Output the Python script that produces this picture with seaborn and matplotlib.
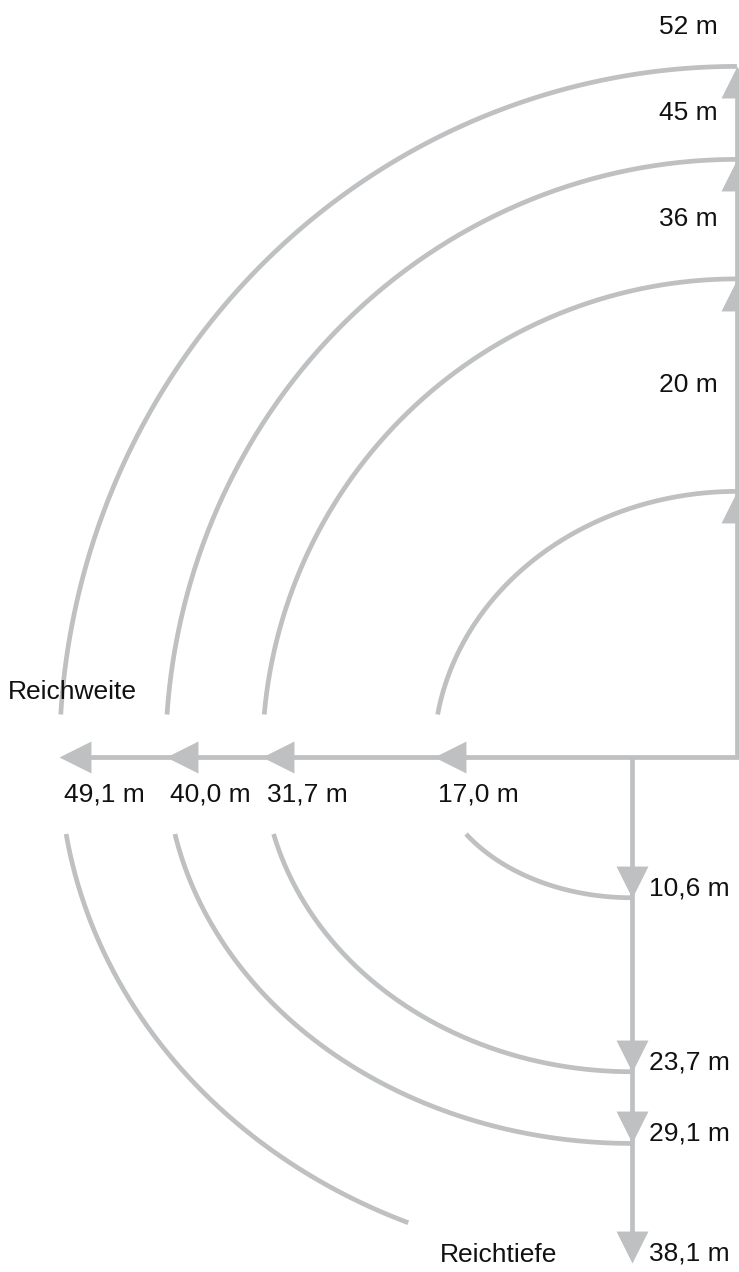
import numpy as np
import matplotlib
matplotlib.use("Agg")
import matplotlib.pyplot as plt
from matplotlib.path import Path
from matplotlib.markers import MarkerStyle
import seaborn as sns

# Werte aus dem Diagramm (Meter)
reichhoehe = [52, 45, 36, 20]
reichweite = [49.1, 40.0, 31.7, 17.0]
reichtiefe = [38.1, 29.1, 23.7, 10.6]
hoehe_labels = ["52 m", "45 m", "36 m", "20 m"]
weite_labels = ["49,1 m", "40,0 m", "31,7 m", "17,0 m"]
tiefe_labels = ["38,1 m", "29,1 m", "23,7 m", "10,6 m"]

# Layout / Stil
grau = "#bfc0c2"
lw = 3.4
mast_x = 9.0        # Mast rechts von der Tiefenachse (m)
gap_oben = 3.2      # Bogen endet über der Weitenachse
gap_unten = 5.8     # Bogen beginnt unter den Beschriftungen
bogen_ende_unten = [67, 90, 90, 90]  # äußerster Bogen läuft vor "Reichtiefe" aus

sns.set_theme(style="white")
plt.rcParams['font.family'] = ['Liberation Sans', 'DejaVu Sans']

fig = plt.figure(figsize=(7.39, 12.72), dpi=100)
ax = fig.add_axes([0, 0, 1, 1])
ax.set_xlim(-54.2, 9.18)
ax.set_ylim(-38.78, 57.0)
ax.axis('off')

line_kw = dict(sort=False, estimator=None, color=grau, linewidth=lw,
               solid_capstyle='butt', solid_joinstyle='miter', ax=ax)

# Achsen: Weite (nach links), Mast (nach oben), Tiefe (nach unten)
sns.lineplot(x=[-max(reichweite) + 1.2, mast_x, mast_x],
             y=[0, 0, max(reichhoehe) - 1.1], **line_kw)
sns.lineplot(x=[0, 0], y=[0, -max(reichtiefe) + 1.1], **line_kw)

# obere Bögen: Reichweite -> Reichhöhe
for r, h in zip(reichweite, reichhoehe):
    a = mast_x + r
    t = np.linspace(np.arcsin(gap_oben / h), np.pi / 2, 200)
    sns.lineplot(x=mast_x - a * np.cos(t), y=h * np.sin(t), **line_kw)

# untere Bögen: Reichweite -> Reichtiefe
for r, d, ende in zip(reichweite, reichtiefe, bogen_ende_unten):
    t = np.linspace(np.arcsin(gap_unten / d), np.radians(ende), 200)
    sns.lineplot(x=-r * np.cos(t), y=-d * np.sin(t), **line_kw)

# Pfeilspitzen (Spitze liegt im Ursprung des Markers)
links = MarkerStyle(Path([(0, 0), (1, 0.5), (1, -0.5), (0, 0)], closed=True))
oben = MarkerStyle(Path([(0, 0), (-0.5, -1), (0.5, -1), (0, 0)], closed=True))
unten = MarkerStyle(Path([(0, 0), (-0.5, 1), (0.5, 1), (0, 0)], closed=True))
pfeil_kw = dict(s=46 ** 2, color=grau, linewidth=0, zorder=3, ax=ax, legend=False)

sns.scatterplot(x=[-r for r in reichweite], y=[0] * 4, marker=links, **pfeil_kw)
sns.scatterplot(x=[mast_x] * 4, y=reichhoehe, marker=oben, **pfeil_kw)
sns.scatterplot(x=[0] * 4, y=[-d for d in reichtiefe], marker=unten, **pfeil_kw)

txt = dict(fontsize=19, color="#111111", textcoords='offset points', va='center')

# Höhen-Beschriftung jeweils zwischen zwei Pfeilen
for i, (h, lab) in enumerate(zip(reichhoehe, hoehe_labels)):
    y_lab = h + 3.0 if i == 0 else (h + reichhoehe[i - 1]) / 2
    ax.annotate(lab, xy=(mast_x, y_lab), xytext=(-14, 0), ha='right', **txt)

for r, lab in zip(reichweite, weite_labels):
    ax.annotate(lab, xy=(-r, 0), xytext=(3, -27), ha='left', **txt)

for d, lab in zip(reichtiefe, tiefe_labels):
    ax.annotate(lab, xy=(0, -d), xytext=(12, 7), ha='left', **txt)

ax.annotate("Reichweite", xy=(-max(reichweite), 0), xytext=(-37, 47), ha='left', **txt)
ax.annotate("Reichtiefe", xy=(0, -max(reichtiefe)), xytext=(-96, 6), ha='center', **txt)

fig.savefig("out.png", dpi=100)
